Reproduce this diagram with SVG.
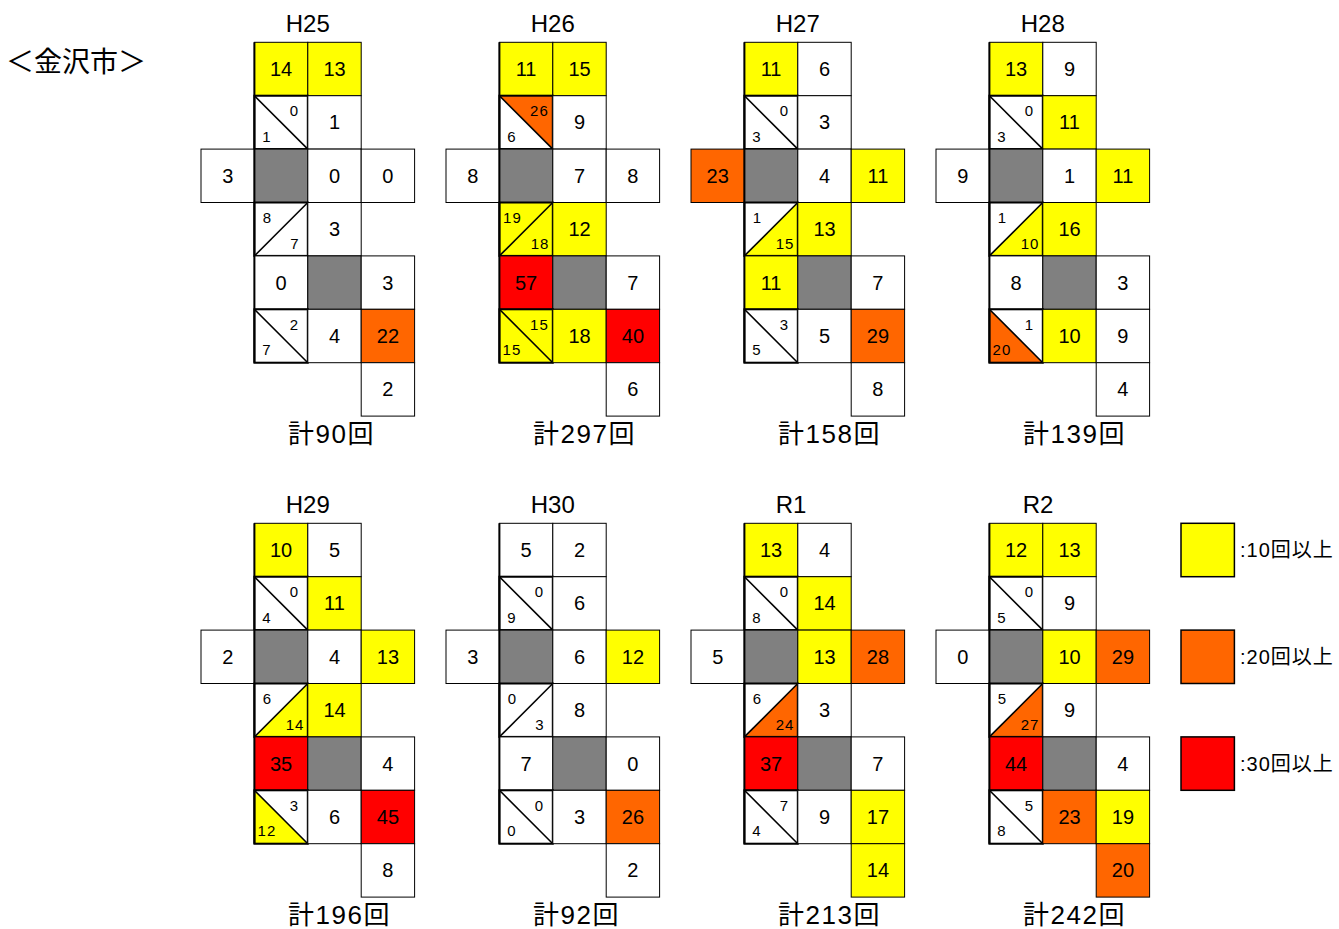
<svg xmlns="http://www.w3.org/2000/svg" width="1339" height="929" viewBox="0 0 1339 929">
<style>
rect{stroke:#000;stroke-width:1}
.w{fill:#fff}.y{fill:#ffff00}.o{fill:#ff6600}.r{fill:#ff0000}.g{fill:#808080}
polygon{stroke:none}
.bd{fill:none;stroke-width:2}
.d{stroke:#000;stroke-width:1.6}
.edge{stroke:#000;stroke-width:2}
text{fill:#000}
.n{font-family:"Liberation Sans",Arial,sans-serif;font-size:20px;text-anchor:middle}
.s{font-family:"Liberation Sans",Arial,sans-serif;font-size:15px;letter-spacing:1px;text-anchor:middle}
.ttl{font-family:"Liberation Sans",Arial,sans-serif;font-size:24px;text-anchor:middle}
.tot{font-family:"Liberation Sans","Noto Sans CJK JP",sans-serif;font-size:26px;letter-spacing:1.5px}
.hd{font-family:"Noto Sans CJK JP",sans-serif;font-size:28px}
.lg{font-family:"Liberation Sans","Noto Sans CJK JP",sans-serif;font-size:20px;letter-spacing:1px}
.lr{stroke-width:1.5}
</style>
<text class="hd" x="6" y="72">＜金沢市＞</text>

<g id="p-h25" transform="translate(201,42.3)">
<text class="ttl" x="106.8" y="-10.3">H25</text>
<rect class="y" x="53.4" y="0" width="53.4" height="53.4"/><text class="n" x="80.1" y="33.7">14</text>
<rect class="y" x="106.8" y="0" width="53.4" height="53.4"/><text class="n" x="133.5" y="33.7">13</text>
<rect class="w" x="53.4" y="53.4" width="53.4" height="53.4"/><line class="d" x1="53.4" y1="53.4" x2="106.8" y2="106.8"/><rect class="bd" x="53.4" y="53.4" width="53.4" height="53.4"/><text class="s" x="93.4" y="74">0</text><text class="s" x="65.9" y="99.6">1</text>
<rect class="w" x="106.8" y="53.4" width="53.4" height="53.4"/><text class="n" x="133.5" y="87.1">1</text>
<rect class="w" x="0" y="106.8" width="53.4" height="53.4"/><text class="n" x="26.7" y="140.5">3</text>
<rect class="g" x="53.4" y="106.8" width="53.4" height="53.4"/>
<rect class="w" x="106.8" y="106.8" width="53.4" height="53.4"/><text class="n" x="133.5" y="140.5">0</text>
<rect class="w" x="160.2" y="106.8" width="53.4" height="53.4"/><text class="n" x="186.9" y="140.5">0</text>
<rect class="w" x="53.4" y="160.2" width="53.4" height="53.4"/><line class="d" x1="53.4" y1="213.6" x2="106.8" y2="160.2"/><rect class="bd" x="53.4" y="160.2" width="53.4" height="53.4"/><text class="s" x="66.4" y="181">8</text><text class="s" x="94" y="207">7</text>
<rect class="w" x="106.8" y="160.2" width="53.4" height="53.4"/><text class="n" x="133.5" y="193.9">3</text>
<rect class="w" x="53.4" y="213.6" width="53.4" height="53.4"/><text class="n" x="80.1" y="247.3">0</text>
<rect class="g" x="106.8" y="213.6" width="53.4" height="53.4"/>
<rect class="w" x="160.2" y="213.6" width="53.4" height="53.4"/><text class="n" x="186.9" y="247.3">3</text>
<rect class="w" x="53.4" y="267" width="53.4" height="53.4"/><line class="d" x1="53.4" y1="267" x2="106.8" y2="320.4"/><rect class="bd" x="53.4" y="267" width="53.4" height="53.4"/><text class="s" x="93.4" y="287.6">2</text><text class="s" x="65.9" y="313.2">7</text>
<rect class="w" x="106.8" y="267" width="53.4" height="53.4"/><text class="n" x="133.5" y="300.7">4</text>
<rect class="o" x="160.2" y="267" width="53.4" height="53.4"/><text class="n" x="186.9" y="300.7">22</text>
<rect class="w" x="160.2" y="320.4" width="53.4" height="53.4"/><text class="n" x="186.9" y="354.1">2</text>
<line class="edge" x1="53.4" y1="0" x2="53.4" y2="320.4"/>
<text class="tot" x="87" y="400.7">計90回</text>
</g>

<g id="p-h26" transform="translate(446,42.3)">
<text class="ttl" x="106.8" y="-10.3">H26</text>
<rect class="y" x="53.4" y="0" width="53.4" height="53.4"/><text class="n" x="80.1" y="33.7">11</text>
<rect class="y" x="106.8" y="0" width="53.4" height="53.4"/><text class="n" x="133.5" y="33.7">15</text>
<rect class="w" x="53.4" y="53.4" width="53.4" height="53.4"/><polygon class="o" points="53.4,53.4 106.8,53.4 106.8,106.8"/><line class="d" x1="53.4" y1="53.4" x2="106.8" y2="106.8"/><rect class="bd" x="53.4" y="53.4" width="53.4" height="53.4"/><text class="s" x="93.4" y="74">26</text><text class="s" x="65.9" y="99.6">6</text>
<rect class="w" x="106.8" y="53.4" width="53.4" height="53.4"/><text class="n" x="133.5" y="87.1">9</text>
<rect class="w" x="0" y="106.8" width="53.4" height="53.4"/><text class="n" x="26.7" y="140.5">8</text>
<rect class="g" x="53.4" y="106.8" width="53.4" height="53.4"/>
<rect class="w" x="106.8" y="106.8" width="53.4" height="53.4"/><text class="n" x="133.5" y="140.5">7</text>
<rect class="w" x="160.2" y="106.8" width="53.4" height="53.4"/><text class="n" x="186.9" y="140.5">8</text>
<rect class="y" x="53.4" y="160.2" width="53.4" height="53.4"/><line class="d" x1="53.4" y1="213.6" x2="106.8" y2="160.2"/><rect class="bd" x="53.4" y="160.2" width="53.4" height="53.4"/><text class="s" x="66.4" y="181">19</text><text class="s" x="94" y="207">18</text>
<rect class="y" x="106.8" y="160.2" width="53.4" height="53.4"/><text class="n" x="133.5" y="193.9">12</text>
<rect class="r" x="53.4" y="213.6" width="53.4" height="53.4"/><text class="n" x="80.1" y="247.3">57</text>
<rect class="g" x="106.8" y="213.6" width="53.4" height="53.4"/>
<rect class="w" x="160.2" y="213.6" width="53.4" height="53.4"/><text class="n" x="186.9" y="247.3">7</text>
<rect class="y" x="53.4" y="267" width="53.4" height="53.4"/><line class="d" x1="53.4" y1="267" x2="106.8" y2="320.4"/><rect class="bd" x="53.4" y="267" width="53.4" height="53.4"/><text class="s" x="93.4" y="287.6">15</text><text class="s" x="65.9" y="313.2">15</text>
<rect class="y" x="106.8" y="267" width="53.4" height="53.4"/><text class="n" x="133.5" y="300.7">18</text>
<rect class="r" x="160.2" y="267" width="53.4" height="53.4"/><text class="n" x="186.9" y="300.7">40</text>
<rect class="w" x="160.2" y="320.4" width="53.4" height="53.4"/><text class="n" x="186.9" y="354.1">6</text>
<line class="edge" x1="53.4" y1="0" x2="53.4" y2="320.4"/>
<text class="tot" x="87" y="400.7">計297回</text>
</g>

<g id="p-h27" transform="translate(691,42.3)">
<text class="ttl" x="106.8" y="-10.3">H27</text>
<rect class="y" x="53.4" y="0" width="53.4" height="53.4"/><text class="n" x="80.1" y="33.7">11</text>
<rect class="w" x="106.8" y="0" width="53.4" height="53.4"/><text class="n" x="133.5" y="33.7">6</text>
<rect class="w" x="53.4" y="53.4" width="53.4" height="53.4"/><line class="d" x1="53.4" y1="53.4" x2="106.8" y2="106.8"/><rect class="bd" x="53.4" y="53.4" width="53.4" height="53.4"/><text class="s" x="93.4" y="74">0</text><text class="s" x="65.9" y="99.6">3</text>
<rect class="w" x="106.8" y="53.4" width="53.4" height="53.4"/><text class="n" x="133.5" y="87.1">3</text>
<rect class="o" x="0" y="106.8" width="53.4" height="53.4"/><text class="n" x="26.7" y="140.5">23</text>
<rect class="g" x="53.4" y="106.8" width="53.4" height="53.4"/>
<rect class="w" x="106.8" y="106.8" width="53.4" height="53.4"/><text class="n" x="133.5" y="140.5">4</text>
<rect class="y" x="160.2" y="106.8" width="53.4" height="53.4"/><text class="n" x="186.9" y="140.5">11</text>
<rect class="w" x="53.4" y="160.2" width="53.4" height="53.4"/><polygon class="y" points="106.8,160.2 106.8,213.6 53.4,213.6"/><line class="d" x1="53.4" y1="213.6" x2="106.8" y2="160.2"/><rect class="bd" x="53.4" y="160.2" width="53.4" height="53.4"/><text class="s" x="66.4" y="181">1</text><text class="s" x="94" y="207">15</text>
<rect class="y" x="106.8" y="160.2" width="53.4" height="53.4"/><text class="n" x="133.5" y="193.9">13</text>
<rect class="y" x="53.4" y="213.6" width="53.4" height="53.4"/><text class="n" x="80.1" y="247.3">11</text>
<rect class="g" x="106.8" y="213.6" width="53.4" height="53.4"/>
<rect class="w" x="160.2" y="213.6" width="53.4" height="53.4"/><text class="n" x="186.9" y="247.3">7</text>
<rect class="w" x="53.4" y="267" width="53.4" height="53.4"/><line class="d" x1="53.4" y1="267" x2="106.8" y2="320.4"/><rect class="bd" x="53.4" y="267" width="53.4" height="53.4"/><text class="s" x="93.4" y="287.6">3</text><text class="s" x="65.9" y="313.2">5</text>
<rect class="w" x="106.8" y="267" width="53.4" height="53.4"/><text class="n" x="133.5" y="300.7">5</text>
<rect class="o" x="160.2" y="267" width="53.4" height="53.4"/><text class="n" x="186.9" y="300.7">29</text>
<rect class="w" x="160.2" y="320.4" width="53.4" height="53.4"/><text class="n" x="186.9" y="354.1">8</text>
<line class="edge" x1="53.4" y1="0" x2="53.4" y2="320.4"/>
<text class="tot" x="87" y="400.7">計158回</text>
</g>

<g id="p-h28" transform="translate(936,42.3)">
<text class="ttl" x="106.8" y="-10.3">H28</text>
<rect class="y" x="53.4" y="0" width="53.4" height="53.4"/><text class="n" x="80.1" y="33.7">13</text>
<rect class="w" x="106.8" y="0" width="53.4" height="53.4"/><text class="n" x="133.5" y="33.7">9</text>
<rect class="w" x="53.4" y="53.4" width="53.4" height="53.4"/><line class="d" x1="53.4" y1="53.4" x2="106.8" y2="106.8"/><rect class="bd" x="53.4" y="53.4" width="53.4" height="53.4"/><text class="s" x="93.4" y="74">0</text><text class="s" x="65.9" y="99.6">3</text>
<rect class="y" x="106.8" y="53.4" width="53.4" height="53.4"/><text class="n" x="133.5" y="87.1">11</text>
<rect class="w" x="0" y="106.8" width="53.4" height="53.4"/><text class="n" x="26.7" y="140.5">9</text>
<rect class="g" x="53.4" y="106.8" width="53.4" height="53.4"/>
<rect class="w" x="106.8" y="106.8" width="53.4" height="53.4"/><text class="n" x="133.5" y="140.5">1</text>
<rect class="y" x="160.2" y="106.8" width="53.4" height="53.4"/><text class="n" x="186.9" y="140.5">11</text>
<rect class="w" x="53.4" y="160.2" width="53.4" height="53.4"/><polygon class="y" points="106.8,160.2 106.8,213.6 53.4,213.6"/><line class="d" x1="53.4" y1="213.6" x2="106.8" y2="160.2"/><rect class="bd" x="53.4" y="160.2" width="53.4" height="53.4"/><text class="s" x="66.4" y="181">1</text><text class="s" x="94" y="207">10</text>
<rect class="y" x="106.8" y="160.2" width="53.4" height="53.4"/><text class="n" x="133.5" y="193.9">16</text>
<rect class="w" x="53.4" y="213.6" width="53.4" height="53.4"/><text class="n" x="80.1" y="247.3">8</text>
<rect class="g" x="106.8" y="213.6" width="53.4" height="53.4"/>
<rect class="w" x="160.2" y="213.6" width="53.4" height="53.4"/><text class="n" x="186.9" y="247.3">3</text>
<rect class="w" x="53.4" y="267" width="53.4" height="53.4"/><polygon class="o" points="53.4,267 53.4,320.4 106.8,320.4"/><line class="d" x1="53.4" y1="267" x2="106.8" y2="320.4"/><rect class="bd" x="53.4" y="267" width="53.4" height="53.4"/><text class="s" x="93.4" y="287.6">1</text><text class="s" x="65.9" y="313.2">20</text>
<rect class="y" x="106.8" y="267" width="53.4" height="53.4"/><text class="n" x="133.5" y="300.7">10</text>
<rect class="w" x="160.2" y="267" width="53.4" height="53.4"/><text class="n" x="186.9" y="300.7">9</text>
<rect class="w" x="160.2" y="320.4" width="53.4" height="53.4"/><text class="n" x="186.9" y="354.1">4</text>
<line class="edge" x1="53.4" y1="0" x2="53.4" y2="320.4"/>
<text class="tot" x="87" y="400.7">計139回</text>
</g>

<g id="p-h29" transform="translate(201,523.3)">
<text class="ttl" x="106.8" y="-10.3">H29</text>
<rect class="y" x="53.4" y="0" width="53.4" height="53.4"/><text class="n" x="80.1" y="33.7">10</text>
<rect class="w" x="106.8" y="0" width="53.4" height="53.4"/><text class="n" x="133.5" y="33.7">5</text>
<rect class="w" x="53.4" y="53.4" width="53.4" height="53.4"/><line class="d" x1="53.4" y1="53.4" x2="106.8" y2="106.8"/><rect class="bd" x="53.4" y="53.4" width="53.4" height="53.4"/><text class="s" x="93.4" y="74">0</text><text class="s" x="65.9" y="99.6">4</text>
<rect class="y" x="106.8" y="53.4" width="53.4" height="53.4"/><text class="n" x="133.5" y="87.1">11</text>
<rect class="w" x="0" y="106.8" width="53.4" height="53.4"/><text class="n" x="26.7" y="140.5">2</text>
<rect class="g" x="53.4" y="106.8" width="53.4" height="53.4"/>
<rect class="w" x="106.8" y="106.8" width="53.4" height="53.4"/><text class="n" x="133.5" y="140.5">4</text>
<rect class="y" x="160.2" y="106.8" width="53.4" height="53.4"/><text class="n" x="186.9" y="140.5">13</text>
<rect class="w" x="53.4" y="160.2" width="53.4" height="53.4"/><polygon class="y" points="106.8,160.2 106.8,213.6 53.4,213.6"/><line class="d" x1="53.4" y1="213.6" x2="106.8" y2="160.2"/><rect class="bd" x="53.4" y="160.2" width="53.4" height="53.4"/><text class="s" x="66.4" y="181">6</text><text class="s" x="94" y="207">14</text>
<rect class="y" x="106.8" y="160.2" width="53.4" height="53.4"/><text class="n" x="133.5" y="193.9">14</text>
<rect class="r" x="53.4" y="213.6" width="53.4" height="53.4"/><text class="n" x="80.1" y="247.3">35</text>
<rect class="g" x="106.8" y="213.6" width="53.4" height="53.4"/>
<rect class="w" x="160.2" y="213.6" width="53.4" height="53.4"/><text class="n" x="186.9" y="247.3">4</text>
<rect class="w" x="53.4" y="267" width="53.4" height="53.4"/><polygon class="y" points="53.4,267 53.4,320.4 106.8,320.4"/><line class="d" x1="53.4" y1="267" x2="106.8" y2="320.4"/><rect class="bd" x="53.4" y="267" width="53.4" height="53.4"/><text class="s" x="93.4" y="287.6">3</text><text class="s" x="65.9" y="313.2">12</text>
<rect class="w" x="106.8" y="267" width="53.4" height="53.4"/><text class="n" x="133.5" y="300.7">6</text>
<rect class="r" x="160.2" y="267" width="53.4" height="53.4"/><text class="n" x="186.9" y="300.7">45</text>
<rect class="w" x="160.2" y="320.4" width="53.4" height="53.4"/><text class="n" x="186.9" y="354.1">8</text>
<line class="edge" x1="53.4" y1="0" x2="53.4" y2="320.4"/>
<text class="tot" x="87" y="400.7">計196回</text>
</g>

<g id="p-h30" transform="translate(446,523.3)">
<text class="ttl" x="106.8" y="-10.3">H30</text>
<rect class="w" x="53.4" y="0" width="53.4" height="53.4"/><text class="n" x="80.1" y="33.7">5</text>
<rect class="w" x="106.8" y="0" width="53.4" height="53.4"/><text class="n" x="133.5" y="33.7">2</text>
<rect class="w" x="53.4" y="53.4" width="53.4" height="53.4"/><line class="d" x1="53.4" y1="53.4" x2="106.8" y2="106.8"/><rect class="bd" x="53.4" y="53.4" width="53.4" height="53.4"/><text class="s" x="93.4" y="74">0</text><text class="s" x="65.9" y="99.6">9</text>
<rect class="w" x="106.8" y="53.4" width="53.4" height="53.4"/><text class="n" x="133.5" y="87.1">6</text>
<rect class="w" x="0" y="106.8" width="53.4" height="53.4"/><text class="n" x="26.7" y="140.5">3</text>
<rect class="g" x="53.4" y="106.8" width="53.4" height="53.4"/>
<rect class="w" x="106.8" y="106.8" width="53.4" height="53.4"/><text class="n" x="133.5" y="140.5">6</text>
<rect class="y" x="160.2" y="106.8" width="53.4" height="53.4"/><text class="n" x="186.9" y="140.5">12</text>
<rect class="w" x="53.4" y="160.2" width="53.4" height="53.4"/><line class="d" x1="53.4" y1="213.6" x2="106.8" y2="160.2"/><rect class="bd" x="53.4" y="160.2" width="53.4" height="53.4"/><text class="s" x="66.4" y="181">0</text><text class="s" x="94" y="207">3</text>
<rect class="w" x="106.8" y="160.2" width="53.4" height="53.4"/><text class="n" x="133.5" y="193.9">8</text>
<rect class="w" x="53.4" y="213.6" width="53.4" height="53.4"/><text class="n" x="80.1" y="247.3">7</text>
<rect class="g" x="106.8" y="213.6" width="53.4" height="53.4"/>
<rect class="w" x="160.2" y="213.6" width="53.4" height="53.4"/><text class="n" x="186.9" y="247.3">0</text>
<rect class="w" x="53.4" y="267" width="53.4" height="53.4"/><line class="d" x1="53.4" y1="267" x2="106.8" y2="320.4"/><rect class="bd" x="53.4" y="267" width="53.4" height="53.4"/><text class="s" x="93.4" y="287.6">0</text><text class="s" x="65.9" y="313.2">0</text>
<rect class="w" x="106.8" y="267" width="53.4" height="53.4"/><text class="n" x="133.5" y="300.7">3</text>
<rect class="o" x="160.2" y="267" width="53.4" height="53.4"/><text class="n" x="186.9" y="300.7">26</text>
<rect class="w" x="160.2" y="320.4" width="53.4" height="53.4"/><text class="n" x="186.9" y="354.1">2</text>
<line class="edge" x1="53.4" y1="0" x2="53.4" y2="320.4"/>
<text class="tot" x="87" y="400.7">計92回</text>
</g>

<g id="p-r1" transform="translate(691,523.3)">
<text class="ttl" x="100" y="-10.3">R1</text>
<rect class="y" x="53.4" y="0" width="53.4" height="53.4"/><text class="n" x="80.1" y="33.7">13</text>
<rect class="w" x="106.8" y="0" width="53.4" height="53.4"/><text class="n" x="133.5" y="33.7">4</text>
<rect class="w" x="53.4" y="53.4" width="53.4" height="53.4"/><line class="d" x1="53.4" y1="53.4" x2="106.8" y2="106.8"/><rect class="bd" x="53.4" y="53.4" width="53.4" height="53.4"/><text class="s" x="93.4" y="74">0</text><text class="s" x="65.9" y="99.6">8</text>
<rect class="y" x="106.8" y="53.4" width="53.4" height="53.4"/><text class="n" x="133.5" y="87.1">14</text>
<rect class="w" x="0" y="106.8" width="53.4" height="53.4"/><text class="n" x="26.7" y="140.5">5</text>
<rect class="g" x="53.4" y="106.8" width="53.4" height="53.4"/>
<rect class="y" x="106.8" y="106.8" width="53.4" height="53.4"/><text class="n" x="133.5" y="140.5">13</text>
<rect class="o" x="160.2" y="106.8" width="53.4" height="53.4"/><text class="n" x="186.9" y="140.5">28</text>
<rect class="w" x="53.4" y="160.2" width="53.4" height="53.4"/><polygon class="o" points="106.8,160.2 106.8,213.6 53.4,213.6"/><line class="d" x1="53.4" y1="213.6" x2="106.8" y2="160.2"/><rect class="bd" x="53.4" y="160.2" width="53.4" height="53.4"/><text class="s" x="66.4" y="181">6</text><text class="s" x="94" y="207">24</text>
<rect class="w" x="106.8" y="160.2" width="53.4" height="53.4"/><text class="n" x="133.5" y="193.9">3</text>
<rect class="r" x="53.4" y="213.6" width="53.4" height="53.4"/><text class="n" x="80.1" y="247.3">37</text>
<rect class="g" x="106.8" y="213.6" width="53.4" height="53.4"/>
<rect class="w" x="160.2" y="213.6" width="53.4" height="53.4"/><text class="n" x="186.9" y="247.3">7</text>
<rect class="w" x="53.4" y="267" width="53.4" height="53.4"/><line class="d" x1="53.4" y1="267" x2="106.8" y2="320.4"/><rect class="bd" x="53.4" y="267" width="53.4" height="53.4"/><text class="s" x="93.4" y="287.6">7</text><text class="s" x="65.9" y="313.2">4</text>
<rect class="w" x="106.8" y="267" width="53.4" height="53.4"/><text class="n" x="133.5" y="300.7">9</text>
<rect class="y" x="160.2" y="267" width="53.4" height="53.4"/><text class="n" x="186.9" y="300.7">17</text>
<rect class="y" x="160.2" y="320.4" width="53.4" height="53.4"/><text class="n" x="186.9" y="354.1">14</text>
<line class="edge" x1="53.4" y1="0" x2="53.4" y2="320.4"/>
<text class="tot" x="87" y="400.7">計213回</text>
</g>

<g id="p-r2" transform="translate(936,523.3)">
<text class="ttl" x="102" y="-10.3">R2</text>
<rect class="y" x="53.4" y="0" width="53.4" height="53.4"/><text class="n" x="80.1" y="33.7">12</text>
<rect class="y" x="106.8" y="0" width="53.4" height="53.4"/><text class="n" x="133.5" y="33.7">13</text>
<rect class="w" x="53.4" y="53.4" width="53.4" height="53.4"/><line class="d" x1="53.4" y1="53.4" x2="106.8" y2="106.8"/><rect class="bd" x="53.4" y="53.4" width="53.4" height="53.4"/><text class="s" x="93.4" y="74">0</text><text class="s" x="65.9" y="99.6">5</text>
<rect class="w" x="106.8" y="53.4" width="53.4" height="53.4"/><text class="n" x="133.5" y="87.1">9</text>
<rect class="w" x="0" y="106.8" width="53.4" height="53.4"/><text class="n" x="26.7" y="140.5">0</text>
<rect class="g" x="53.4" y="106.8" width="53.4" height="53.4"/>
<rect class="y" x="106.8" y="106.8" width="53.4" height="53.4"/><text class="n" x="133.5" y="140.5">10</text>
<rect class="o" x="160.2" y="106.8" width="53.4" height="53.4"/><text class="n" x="186.9" y="140.5">29</text>
<rect class="w" x="53.4" y="160.2" width="53.4" height="53.4"/><polygon class="o" points="106.8,160.2 106.8,213.6 53.4,213.6"/><line class="d" x1="53.4" y1="213.6" x2="106.8" y2="160.2"/><rect class="bd" x="53.4" y="160.2" width="53.4" height="53.4"/><text class="s" x="66.4" y="181">5</text><text class="s" x="94" y="207">27</text>
<rect class="w" x="106.8" y="160.2" width="53.4" height="53.4"/><text class="n" x="133.5" y="193.9">9</text>
<rect class="r" x="53.4" y="213.6" width="53.4" height="53.4"/><text class="n" x="80.1" y="247.3">44</text>
<rect class="g" x="106.8" y="213.6" width="53.4" height="53.4"/>
<rect class="w" x="160.2" y="213.6" width="53.4" height="53.4"/><text class="n" x="186.9" y="247.3">4</text>
<rect class="w" x="53.4" y="267" width="53.4" height="53.4"/><line class="d" x1="53.4" y1="267" x2="106.8" y2="320.4"/><rect class="bd" x="53.4" y="267" width="53.4" height="53.4"/><text class="s" x="93.4" y="287.6">5</text><text class="s" x="65.9" y="313.2">8</text>
<rect class="o" x="106.8" y="267" width="53.4" height="53.4"/><text class="n" x="133.5" y="300.7">23</text>
<rect class="y" x="160.2" y="267" width="53.4" height="53.4"/><text class="n" x="186.9" y="300.7">19</text>
<rect class="o" x="160.2" y="320.4" width="53.4" height="53.4"/><text class="n" x="186.9" y="354.1">20</text>
<line class="edge" x1="53.4" y1="0" x2="53.4" y2="320.4"/>
<text class="tot" x="87" y="400.7">計242回</text>
</g>

<g id="legend">
<g id="lg-10"><rect class="y lr" x="1181" y="523.3" width="53.4" height="53.4"/><text class="lg" x="1240" y="557">:10回以上</text></g>
<g id="lg-20"><rect class="o lr" x="1181" y="630.1" width="53.4" height="53.4"/><text class="lg" x="1240" y="663.8">:20回以上</text></g>
<g id="lg-30"><rect class="r lr" x="1181" y="736.9" width="53.4" height="53.4"/><text class="lg" x="1240" y="770.6">:30回以上</text></g>
</g>
</svg>
